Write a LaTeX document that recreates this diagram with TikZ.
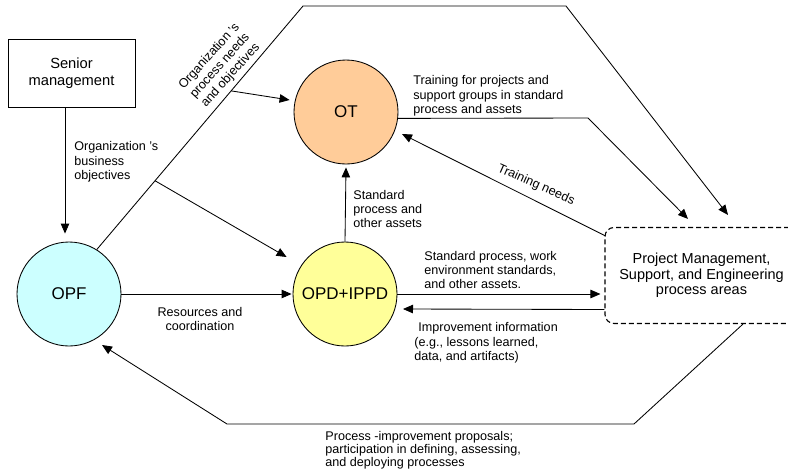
\documentclass[tikz,border=0pt]{standalone}
\usepackage{fontspec}
\setmainfont{Liberation Sans}
\usetikzlibrary{arrows.meta,calc}
\definecolor{otc}{RGB}{255,204,153}
\definecolor{opfc}{RGB}{204,255,255}
\definecolor{opdc}{RGB}{255,255,153}
\begin{document}
\begin{tikzpicture}[x=1pt,y=-1pt,line width=0.85pt,
  arr/.style={-{Triangle[length=10pt,width=8.5pt]}},
  lbl/.style={font=\fontsize{12.6}{14.3}\selectfont,align=left,inner sep=0pt},
  circ/.style={draw,circle,minimum size=104pt,inner sep=0pt,font=\fontsize{17}{20}\selectfont},
  smbox/.style={draw,rectangle,minimum width=127pt,minimum height=68pt,align=center,font=\fontsize{14.7}{17}\selectfont},
  pmbox/.style={draw,line width=1.1pt,dash pattern=on 5pt off 3pt,rounded corners=9pt,minimum width=193pt,minimum height=96pt,align=center,font=\fontsize{14.5}{15.7}\selectfont}]
\useasboundingbox (0,0) rectangle (788,472);
% nodes
\node[smbox] (sm) at (71.5,73) {Senior\\management};
\node[circ,fill=opfc] (opf) at (69,294) {OPF};
\node[circ,fill=opdc] (opd) at (345,294) {OPD+IPPD};
\node[circ,fill=otc] (ot) at (346,112) {OT};
\node[pmbox] (pm) at (701.5,275.5) {Project Management,\\Support, and Engineering\\process areas};
% helper coordinates
\coordinate (t1) at (303,6);
\coordinate (t2) at (566,6);
\coordinate (t3) at (588,118);
\coordinate (b1) at (634,424);
\coordinate (b2) at (227,424);
\path (opf.58) -- (t1) coordinate[pos=0.2825] (br1) coordinate[pos=0.6515] (br2);
% connectors
\draw[arr] ([xshift=-6.5pt]sm.south) -- ([xshift=-4pt,yshift=8pt]opf.north);
\draw[arr] (opf.58) -- (t1) -- (t2) -- ([xshift=26.5pt,yshift=12pt]pm.north);
\draw[arr] (br1) -- ([xshift=-6pt,yshift=37pt]opd.west);
\draw[arr] (br2) -- ([xshift=-4pt,yshift=12pt]ot.west);
\draw[arr] (ot.-7) -- (t3) -- ([xshift=-13.5pt,yshift=8pt]pm.north);
\draw[arr] ([xshift=1pt,yshift=-9pt]pm.north west) -- ($(ot)+(56,22)$);
\draw[arr] (opd.north) -- ([yshift=-3pt]ot.south);
\draw[arr] (opd.east) -- ([xshift=-4pt]opd.east -| pm.west);
\draw[arr] ([yshift=-34pt]pm.west) -- ($(opd)+(58,15)$);
\draw[arr] (opf.east) -- ([xshift=-1pt]opd.west);
\draw[arr] ([xshift=41.5pt]pm.south) -- (b1) -- (b2) -- ($(opf)+(33,51)$);
% labels
\node[lbl,anchor=west] (l1) at (74,162) {Organization 's\\business\\objectives};
\node[lbl,align=center,rotate=48] (l2) at (220,66) {Organization 's\\process needs\\and objectives};
\node[lbl,anchor=west] (l3) at (413,96) {Training for projects and\\support groups in standard\\process and assets};
\node[lbl,rotate=-24] (l4) at (536,185) {Training needs};
\node[lbl,anchor=west] (l5) at (353,209) {Standard\\process and\\other assets};
\node[lbl,anchor=west] (l6) at (424,270) {Standard process, work\\environment standards,\\and other assets.};
\node[lbl,anchor=west] (l7) at (414,343) {\hspace{4pt}Improvement information\\(e.g., lessons learned,\\data, and artifacts)};
\node[lbl,align=center] (l8) at (200,319) {Resources and\\coordination};
\node[lbl,anchor=west,font=\fontsize{12.6}{12.8}\selectfont] (l9) at (325,450) {Process -improvement proposals;\\participation in defining, assessing,\\and deploying processes};
\end{tikzpicture}
\end{document}
